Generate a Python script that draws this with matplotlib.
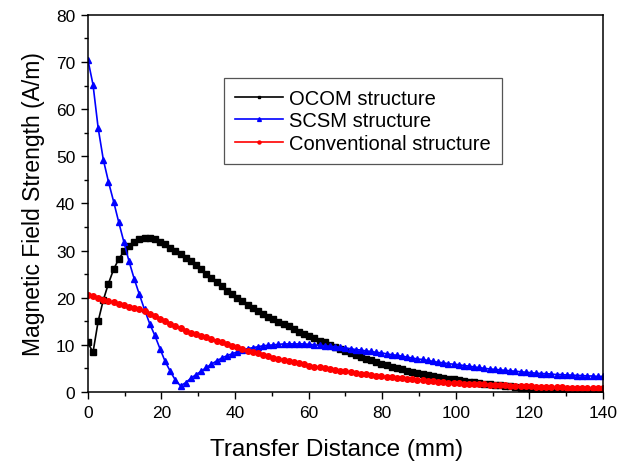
import numpy as np
import matplotlib
matplotlib.use("Agg")
import matplotlib.pyplot as plt
from matplotlib.ticker import MultipleLocator

plt.rcParams['font.family'] = ['Liberation Sans', 'DejaVu Sans']

# sampling grid, 1.4 mm step over 0-140 mm
distance = np.linspace(0, 140, 101)

ocom = [10.5, 8.4, 15.0, 19.5, 23.0, 26.0, 28.2, 29.8, 31.0, 31.9,
        32.4, 32.7, 32.7, 32.4, 31.9, 31.3, 30.6, 29.9, 29.2, 28.5,
        27.7, 26.9, 26.0, 25.1, 24.2, 23.3, 22.4, 21.5, 20.7, 19.9,
        19.2, 18.5, 17.8, 17.2, 16.6, 16.0, 15.4, 14.9, 14.4, 13.9,
        13.3, 12.8, 12.3, 11.8, 11.4, 10.9, 10.5, 10.0, 9.6, 9.1,
        8.7, 8.3, 7.9, 7.5, 7.1, 6.7, 6.4, 6.0, 5.7, 5.4,
        5.1, 4.8, 4.5, 4.2, 4.0, 3.8, 3.6, 3.4, 3.2, 3.0,
        2.8, 2.7, 2.5, 2.4, 2.2, 2.1, 1.9, 1.8, 1.7, 1.5,
        1.4, 1.3, 1.2, 1.0, 0.9, 0.8, 0.7, 0.6, 0.5, 0.4,
        0.3, 0.3, 0.2, 0.2, 0.1, 0.1, 0.1, 0.1, 0.1, 0.1,
        0.1]

scsm = [70.5, 65.2, 56.0, 49.3, 44.6, 40.4, 36.0, 31.8, 27.7, 24.0,
        20.7, 17.5, 14.5, 12.0, 9.2, 6.5, 4.4, 2.5, 1.3, 2.0,
        2.9, 3.7, 4.4, 5.2, 5.9, 6.6, 7.2, 7.7, 8.1, 8.5,
        8.9, 9.2, 9.4, 9.6, 9.8, 9.9, 10.0, 10.1, 10.2, 10.2,
        10.2, 10.2, 10.2, 10.1, 10.0, 9.9, 9.8, 9.7, 9.6, 9.5,
        9.3, 9.2, 9.0, 8.9, 8.7, 8.6, 8.4, 8.3, 8.1, 7.9,
        7.8, 7.6, 7.4, 7.2, 7.0, 6.9, 6.7, 6.5, 6.3, 6.2,
        6.0, 5.9, 5.8, 5.6, 5.5, 5.3, 5.2, 5.0, 4.9, 4.8,
        4.7, 4.6, 4.5, 4.4, 4.3, 4.2, 4.1, 4.0, 3.9, 3.9,
        3.8, 3.7, 3.7, 3.6, 3.6, 3.5, 3.5, 3.4, 3.4, 3.3,
        3.3]

conventional = [20.6, 20.3, 20.0, 19.6, 19.3, 19.0, 18.7, 18.4, 18.1, 17.8,
                17.5, 17.1, 16.6, 16.1, 15.5, 15.0, 14.5, 14.0, 13.5, 13.0,
                12.6, 12.3, 11.9, 11.6, 11.2, 10.9, 10.5, 10.2, 9.8, 9.5,
                9.1, 8.8, 8.5, 8.2, 7.9, 7.6, 7.3, 7.0, 6.8, 6.6,
                6.3, 6.1, 5.9, 5.6, 5.4, 5.2, 5.0, 4.8, 4.7, 4.5,
                4.4, 4.2, 4.1, 3.9, 3.8, 3.6, 3.5, 3.4, 3.2, 3.1,
                3.0, 2.9, 2.8, 2.7, 2.6, 2.5, 2.4, 2.3, 2.2, 2.1,
                2.0, 2.0, 1.9, 1.8, 1.8, 1.7, 1.6, 1.6, 1.5, 1.5,
                1.4, 1.4, 1.3, 1.3, 1.2, 1.2, 1.2, 1.1, 1.1, 1.1,
                1.0, 1.0, 1.0, 0.9, 0.9, 0.9, 0.9, 0.8, 0.8, 0.8,
                0.8]

fig = plt.figure(figsize=(6.32, 4.64), dpi=100)
ax = fig.add_axes([0.139, 0.153, 0.815, 0.813])

ax.plot(distance, ocom, color='black', marker='s', markersize=3.8, lw=1.2,
        label='OCOM structure')
ax.plot(distance, scsm, color='blue', marker='^', markersize=5, lw=1.2,
        label='SCSM structure')
ax.plot(distance, conventional, color='red', marker='o', markersize=4, lw=1.2,
        label='Conventional structure')

ax.set_xlim(0, 140)
ax.set_ylim(0, 80)
ax.xaxis.set_major_locator(MultipleLocator(20))
ax.xaxis.set_minor_locator(MultipleLocator(10))
ax.yaxis.set_major_locator(MultipleLocator(10))
ax.yaxis.set_minor_locator(MultipleLocator(5))
ax.tick_params(which='major', direction='out', length=5, width=1,
               labelsize=12.5, pad=4)
ax.tick_params(which='minor', direction='out', length=3, width=1)
for s in ax.spines.values():
    s.set_linewidth(1.1)

ax.set_xlabel('Transfer Distance (mm)', fontsize=17.5, labelpad=13)
ax.xaxis.label.set_x(0.483)
ax.set_ylabel('Magnetic Field Strength (A/m)', fontsize=16.5, labelpad=8)

leg = ax.legend(loc='upper left', bbox_to_anchor=(0.264, 0.833), fontsize=14.5,
                fancybox=False, edgecolor='#555555', framealpha=1,
                handlelength=2.4, markerscale=0.55, borderpad=0.55,
                labelspacing=0.18, handletextpad=0.3, borderaxespad=0)
leg.get_frame().set_linewidth(0.9)

fig.savefig('out.png', dpi=100)
